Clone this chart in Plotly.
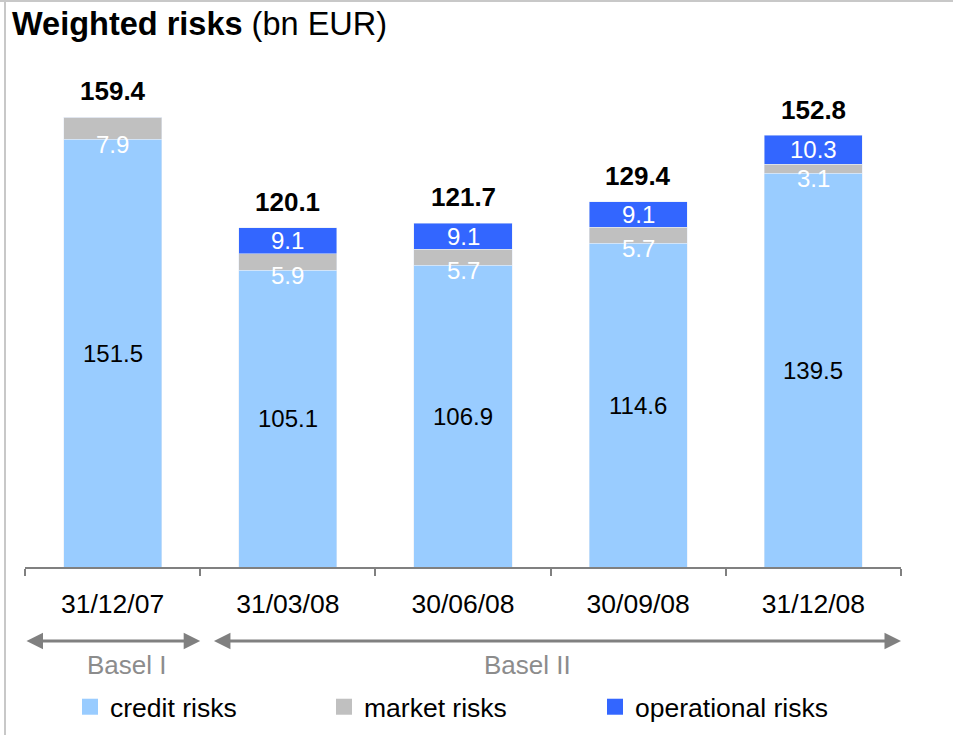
import plotly.graph_objects as go

# ---- data ----
categories = ["31/12/07", "31/03/08", "30/06/08", "30/09/08", "31/12/08"]
credit_risks = [151.5, 105.1, 106.9, 114.6, 139.5]
market_risks = [7.9, 5.9, 5.7, 5.7, 3.1]
operational_risks = [0, 9.1, 9.1, 9.1, 10.3]
totals = [159.4, 120.1, 121.7, 129.4, 152.8]
regimes = ["Basel I", "Basel II"]
regime_spans = [(-0.5, 0.5), (0.57, 4.5)]
regime_label_x = [0.08, 2.37]

C_CREDIT = "#99CCFF"
C_MARKET = "#C0C0C0"
C_OPER = "#3366FF"
FONT = "Arial, Liberation Sans, sans-serif"

W, H = 953, 735
ML, MR, MT, MB = 25, 52, 50, 168
PW, PH = W - ML - MR, H - MT - MB
YMAX = PH / 2.823


def py(pix):  # pixel y (from top) -> paper y
    return (H - MB - pix) / PH


def px(pix):  # pixel x -> paper x
    return (pix - ML) / PW


fig = go.Figure()
fig.add_trace(go.Bar(x=categories, y=credit_risks, marker_color=C_CREDIT,
                     width=0.56, showlegend=False, hoverinfo="skip"))
fig.add_trace(go.Bar(x=categories, y=market_risks, marker_color=C_MARKET,
                     width=0.56, showlegend=False, hoverinfo="skip"))
fig.add_trace(go.Bar(x=categories, y=operational_risks, marker_color=C_OPER,
                     width=0.56, showlegend=False, hoverinfo="skip"))

# legend entries (square markers)
legend_names = ["credit risks", "market risks", "operational risks"]
legend_colors = [C_CREDIT, C_MARKET, C_OPER]
legend_ids = ["legend", "legend2", "legend3"]
legend_px = [83, 337, 608]
for name, col, lid in zip(legend_names, legend_colors, legend_ids):
    fig.add_trace(go.Scatter(x=[None], y=[None], mode="markers", name=name,
                             marker=dict(symbol="square", size=17, color=col),
                             legend=lid))

ann = []
for i, cat in enumerate(categories):
    c, m, o, t = credit_risks[i], market_risks[i], operational_risks[i], totals[i]
    ann.append(dict(x=cat, y=c / 2, text=f"{c:.1f}", showarrow=False,
                    font=dict(size=24, color="black", family=FONT)))
    ann.append(dict(x=cat, y=c, yshift=-5, text=f"{m:.1f}", showarrow=False,
                    font=dict(size=24, color="white", family=FONT)))
    if o > 0:
        ann.append(dict(x=cat, y=c + m + o / 2, text=f"{o:.1f}", showarrow=False,
                        font=dict(size=24, color="white", family=FONT)))
    ann.append(dict(x=cat, y=t, yshift=26, text=f"<b>{t:.1f}</b>", showarrow=False,
                    font=dict(size=26, color="black", family=FONT)))

# Basel arrows and labels
for (x0, x1), lab, lx in zip(regime_spans, regimes, regime_label_x):
    ann.append(dict(x=x1, y=py(641), xref="x", yref="paper",
                    ax=x0, ay=0, axref="x", ayref="pixel",
                    text="", showarrow=True, arrowhead=2, arrowside="end+start",
                    arrowwidth=3, arrowsize=1.1, arrowcolor="#808080"))
    ann.append(dict(x=lx, y=py(665), xref="x", yref="paper", text=lab,
                    xanchor="center", yanchor="middle",
                    showarrow=False, font=dict(size=26, color="#8C8C8C", family=FONT)))

fig.update_layout(
    width=W, height=H,
    margin=dict(l=ML, r=MR, t=MT, b=MB, autoexpand=False),
    barmode="stack",
    plot_bgcolor="white", paper_bgcolor="white",
    font=dict(family=FONT, color="black"),
    title=dict(text="<b>Weighted risks</b> (bn EUR)", xref="container", yref="container",
               x=12 / W, y=1 - 24 / H, xanchor="left", yanchor="middle",
               font=dict(size=32.5, color="black", family=FONT)),
    xaxis=dict(type="category", range=[-0.5, 4.5], showgrid=False, automargin=False,
               showline=True, linecolor="#808080", linewidth=1.5,
               ticks="outside", tickson="boundaries", ticklen=7, tickwidth=1.5,
               tickcolor="#808080", ticklabelstandoff=12,
               tickfont=dict(size=26.5, color="black", family=FONT), fixedrange=True),
    yaxis=dict(range=[0, YMAX], visible=False, fixedrange=True),
    annotations=ann,
    shapes=[
        dict(type="line", xref="paper", yref="paper", x0=px(0), x1=px(W), y0=py(1), y1=py(1),
             line=dict(color="#C8C8C8", width=2)),
        dict(type="line", xref="paper", yref="paper", x0=px(5), x1=px(5), y0=py(0), y1=py(H),
             line=dict(color="#C8C8C8", width=2)),
    ],
    hovermode=False,
)

for lid, lx in zip(legend_ids, legend_px):
    fig.update_layout({lid: dict(xref="container", yref="container",
                                 x=(lx - 13) / W, y=1 - 707 / H,
                                 xanchor="left", yanchor="middle",
                                 orientation="h", itemwidth=30, bgcolor="rgba(0,0,0,0)",
                                 font=dict(size=26.5, color="black", family=FONT))})

fig.write_html(
    "out.html", config={"displayModeBar": False, "responsive": False},
    post_script=(
        "var gd=document.getElementById('{plot_id}');"
        "gd.style.position='fixed';gd.style.left='0px';gd.style.top='0px';"
        "document.documentElement.style.overflow='hidden';"
        "document.body.style.overflow='hidden';"
    ),
)
